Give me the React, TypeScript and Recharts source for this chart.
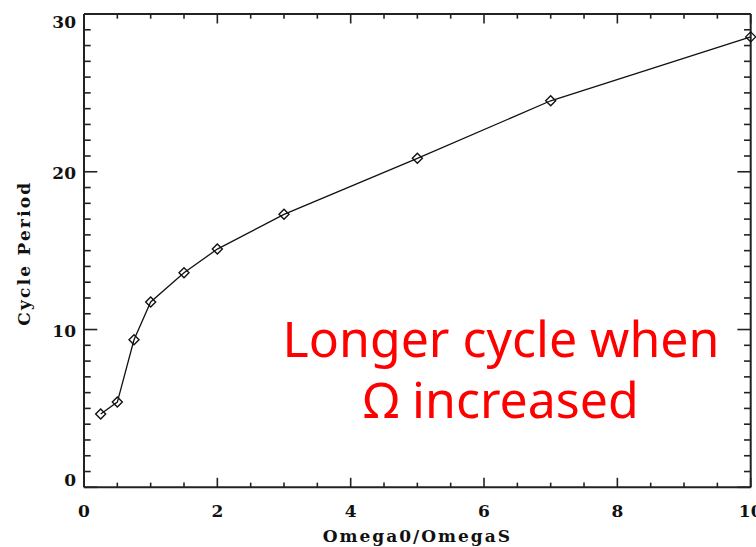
import React from 'react';
import { LineChart, Line, XAxis, YAxis, ReferenceLine } from 'recharts';

// Cycle period versus rotation ratio
const omegaRatio = [0.25, 0.5, 0.75, 1, 1.5, 2, 3, 5, 7, 10];
const cyclePeriod = [4.65, 5.4, 9.35, 11.75, 13.6, 15.1, 17.3, 20.85, 24.5, 28.55];

// Tick positions: labelled majors plus minor subdivisions
const xMajorTicks = [0, 2, 4, 6, 8, 10];
const xAllTicks = [0, 0.5, 1, 1.5, 2, 2.5, 3, 3.5, 4, 4.5, 5, 5.5, 6, 6.5, 7, 7.5, 8, 8.5, 9, 9.5, 10];
const yMajorTicks = [0, 10, 20, 30];
const yAllTicks = [0, 1, 2, 3, 4, 5, 6, 7, 8, 9, 10, 11, 12, 13, 14, 15, 16, 17, 18, 19, 20, 21, 22, 23, 24, 25, 26, 27, 28, 29, 30];

const xTitle = 'Omega0/OmegaS';
const yTitle = 'Cycle Period';
const noteLines = ['Longer cycle when', 'Ω increased'];

const X_DOMAIN: [number, number] = [0, 10];
const Y_DOMAIN: [number, number] = [0, 30];

const data = omegaRatio.map((x, i) => ({ x, y: cyclePeriod[i] }));

const W = 756;
const H = 547;
// plot box: left 84, top 14, right 750.7, bottom 487.3
const LEFT_AXIS_W = 60;
const BOTTOM_AXIS_H = 40;
const margin = { top: 13, right: 4.3, bottom: 19.7, left: 84 - LEFT_AXIS_W };
const AXIS = '#222';
const FONT = '"DejaVu Serif", "Liberation Serif", serif';

const PLOT_LEFT = 84;
const PLOT_TOP = 14;
const PLOT_RIGHT = W - margin.right - 1;
const PLOT_BOTTOM = H - margin.bottom - BOTTOM_AXIS_H;
const PX_PER_X = (PLOT_RIGHT - PLOT_LEFT) / (X_DOMAIN[1] - X_DOMAIN[0]);
const PX_PER_Y = (PLOT_BOTTOM - PLOT_TOP) / (Y_DOMAIN[1] - Y_DOMAIN[0]);

// inward tick lengths in pixels, converted to axis units for the segments
const X_MAJOR = 9.5 / PX_PER_Y;
const X_MINOR = 4.7 / PX_PER_Y;
const Y_MAJOR = 13.3 / PX_PER_X;
const Y_MINOR = 6.7 / PX_PER_X;

const isXMajor = (v: number) => xMajorTicks.includes(v);
const isYMajor = (v: number) => yMajorTicks.includes(v);

const BottomLabel = (props: any) => {
  const { x, y, payload } = props;
  const v = payload.value;
  if (!isXMajor(v)) return <g />;
  return (
    <text x={x} y={y + 29.7} textAnchor="middle" fontFamily={FONT} fontWeight="bold" fontSize={17} fill="#111">
      {v}
    </text>
  );
};

const LeftLabel = (props: any) => {
  const { x, y, payload } = props;
  const v = payload.value;
  if (!isYMajor(v)) return <g />;
  let dy = 7.7;
  if (v === 30) dy = 13.9;
  if (v === 0) dy = -1.1;
  return (
    <text x={x - 8} y={y + dy} textAnchor="end" fontFamily={FONT} fontWeight="bold" fontSize={17} fill="#111">
      {v}
    </text>
  );
};

const Diamond = (props: any) => {
  const { cx, cy } = props;
  if (cx == null || cy == null) return null;
  const r = 5;
  return (
    <path
      d={`M${cx},${cy - r} L${cx + r},${cy} L${cx},${cy + r} L${cx - r},${cy} Z`}
      fill="none"
      stroke="#111"
      strokeWidth={1.4}
    />
  );
};

const tickStyle = { stroke: AXIS, strokeWidth: 1.6, ifOverflow: 'visible' as const };

export default function App() {
  const plotCx = (PLOT_LEFT + PLOT_RIGHT) / 2;
  const plotCy = (PLOT_TOP + PLOT_BOTTOM) / 2;
  return (
    <div style={{ position: 'absolute', left: 0, top: 0, width: W, height: H, overflow: 'hidden', background: '#fff' }}>
      <LineChart width={W} height={H} data={data} margin={margin}>
        <XAxis
          xAxisId="bottom"
          dataKey="x"
          type="number"
          domain={X_DOMAIN}
          ticks={xAllTicks}
          interval={0}
          height={BOTTOM_AXIS_H}
          tickSize={0}
          tickMargin={0}
          tickLine={false}
          stroke={AXIS}
          strokeWidth={2}
          tick={BottomLabel}
        />
        <XAxis
          xAxisId="top"
          dataKey="x"
          type="number"
          domain={X_DOMAIN}
          orientation="top"
          height={1}
          tickLine={false}
          tick={false}
          stroke={AXIS}
          strokeWidth={2}
        />
        <YAxis
          yAxisId="left"
          type="number"
          domain={Y_DOMAIN}
          ticks={yAllTicks}
          interval={0}
          width={LEFT_AXIS_W}
          tickSize={0}
          tickMargin={0}
          tickLine={false}
          stroke={AXIS}
          strokeWidth={2}
          tick={LeftLabel}
        />
        <YAxis
          yAxisId="right"
          type="number"
          domain={Y_DOMAIN}
          orientation="right"
          width={1}
          tickLine={false}
          tick={false}
          stroke={AXIS}
          strokeWidth={2}
        />
        {xAllTicks.map((v) => {
          const len = isXMajor(v) ? X_MAJOR : X_MINOR;
          return (
            <ReferenceLine
              key={`xb${v}`}
              xAxisId="bottom"
              yAxisId="left"
              segment={[{ x: v, y: Y_DOMAIN[0] + len }, { x: v, y: Y_DOMAIN[0] }]}
              {...tickStyle}
            />
          );
        })}
        {xAllTicks.map((v) => {
          const len = isXMajor(v) ? X_MAJOR : X_MINOR;
          return (
            <ReferenceLine
              key={`xt${v}`}
              xAxisId="bottom"
              yAxisId="left"
              segment={[{ x: v, y: Y_DOMAIN[1] - len }, { x: v, y: Y_DOMAIN[1] }]}
              {...tickStyle}
            />
          );
        })}
        {yAllTicks.map((v) => {
          const len = isYMajor(v) ? Y_MAJOR : Y_MINOR;
          return (
            <ReferenceLine
              key={`yl${v}`}
              xAxisId="bottom"
              yAxisId="left"
              segment={[{ x: X_DOMAIN[0] + len, y: v }, { x: X_DOMAIN[0], y: v }]}
              {...tickStyle}
            />
          );
        })}
        {yAllTicks.map((v) => {
          const len = isYMajor(v) ? Y_MAJOR : Y_MINOR;
          return (
            <ReferenceLine
              key={`yr${v}`}
              xAxisId="bottom"
              yAxisId="left"
              segment={[{ x: X_DOMAIN[1] - len, y: v }, { x: X_DOMAIN[1], y: v }]}
              {...tickStyle}
            />
          );
        })}
        <Line
          xAxisId="bottom"
          yAxisId="left"
          dataKey="y"
          type="linear"
          stroke="#111"
          strokeWidth={1.3}
          dot={<Diamond />}
          activeDot={false}
          isAnimationActive={false}
        />
      </LineChart>
      <svg
        width={W}
        height={H}
        style={{ position: 'absolute', left: 0, top: 0, pointerEvents: 'none' }}
      >
        <text
          x={plotCx}
          y={H - 5.3}
          textAnchor="middle"
          fontFamily={FONT}
          fontWeight="bold"
          fontSize={17}
          letterSpacing={2}
          fill="#111"
        >
          {xTitle}
        </text>
        <text
          x={30}
          y={plotCy + 2.5}
          transform={`rotate(-90 30 ${plotCy + 2.5})`}
          textAnchor="middle"
          fontFamily={FONT}
          fontWeight="bold"
          fontSize={17}
          letterSpacing={2.2}
          fill="#111"
        >
          {yTitle}
        </text>
        <text x={501} y={356.7} textAnchor="middle" fontFamily='"Noto Sans", sans-serif' fontSize={50} fill="#ff0000">
          {noteLines[0]}
        </text>
        <text x={501} y={418.3} textAnchor="middle" fontFamily='"Noto Sans", sans-serif' fontSize={50} fill="#ff0000">
          {noteLines[1]}
        </text>
      </svg>
    </div>
  );
}
